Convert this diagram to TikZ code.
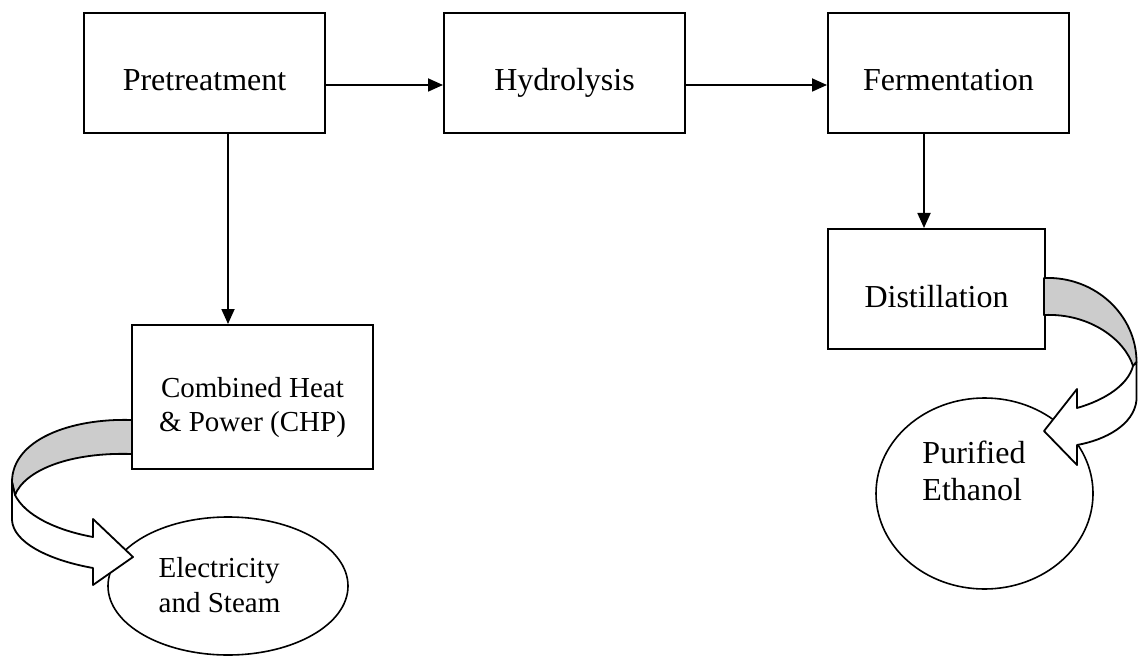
\documentclass[tikz,border=0pt]{standalone}
\usepackage{fontspec}
\setmainfont{Liberation Serif}
\usetikzlibrary{arrows.meta,shapes.geometric}
\definecolor{ribgrey}{RGB}{204,204,204}
\begin{document}
\begin{tikzpicture}[x=0.5pt,y=-0.5pt,
  box/.style={draw, line width=1pt, rectangle, inner sep=0pt,
    font=\fontsize{16pt}{18.5pt}\selectfont, text height=18pt, text depth=0pt},
  arr/.style={line width=0.9pt, -{Triangle[length=7.5pt,width=6.5pt]}},
  oval/.style={draw, ellipse, line width=0.8pt, inner sep=0pt},
  ribbon/.style={draw, line width=0.9pt, line join=round}]
\clip (0,0) rectangle (1138,657);
\useasboundingbox (0,0) rectangle (1138,657);

% process boxes
\node[box, minimum width=120.5pt, minimum height=60pt] (pre) at (204.5,73) {Pretreatment};
\node[box, minimum width=120.5pt, minimum height=60pt] (hyd) at (564.5,73) {Hydrolysis};
\node[box, minimum width=120.5pt, minimum height=60pt] (fer) at (948.5,73) {Fermentation};
\node[box, minimum width=108.5pt, minimum height=60pt] (dis) at (936.5,289) {Distillation};
\node[box, minimum width=120.5pt, minimum height=72pt, text height=10pt, text depth=10pt,
  font=\fontsize{14.5pt}{17pt}\selectfont] (chp) at (252.5,397)
  {\begin{tabular}[t]{@{}c@{}}Combined Heat\\ \& Power (CHP)\end{tabular}};

% products
\node[oval, minimum width=120pt, minimum height=69pt, text height=5pt, text depth=14pt,
  font=\fontsize{14.5pt}{17.5pt}\selectfont] (elec) at (228,586)
  {\begin{tabular}[t]{@{}l@{\hspace{8.5pt}}}Electricity\\ and Steam\end{tabular}};
\node[oval, minimum width=108.5pt, minimum height=95.5pt, text height=0pt, text depth=30.5pt,
  font=\fontsize{16pt}{18.5pt}\selectfont] (eth) at (984.5,493.5)
  {\begin{tabular}[t]{@{}l@{\hspace{10.5pt}}}Purified\\ Ethanol\end{tabular}};

% straight connectors
\draw[arr] ([yshift=-6pt]pre.east) -- ([yshift=-6pt]hyd.west);
\draw[arr] ([yshift=-6pt]hyd.east) -- ([yshift=-6pt]fer.west);
\draw[arr] ([xshift=11.75pt]pre.south) -- ([xshift=11.75pt]pre.south |- chp.north);
\draw[arr] ([xshift=-12.25pt]fer.south) -- ([xshift=-12.25pt]fer.south |- dis.north);

% curved ribbon arrow: CHP -> Electricity and Steam
\draw[ribbon, fill=ribgrey] (132,420) .. controls (70,418) and (12,440) .. (12,482)
  -- (15,495) .. controls (25,470) and (70,452) .. (132,454) -- cycle;
\draw[ribbon, fill=white] (12,482) -- (12,520) .. controls (13,542) and (48,560) .. (93,568)
  -- (93,585) -- (133,557) -- (93,519) -- (93,537)
  .. controls (55,530) and (25,515) .. (15,495) -- cycle;

% curved ribbon arrow: Distillation -> Purified Ethanol
\draw[ribbon, fill=ribgrey] (1044,278) .. controls (1095,276) and (1136.5,315) .. (1136.5,362)
  -- (1133,366) .. controls (1125,340) and (1090,313) .. (1044,315) -- cycle;
\draw[ribbon, fill=white] (1136.5,362) -- (1136.5,400) .. controls (1134,425) and (1105,440) .. (1077,445)
  -- (1077,465) -- (1044,431) -- (1077,389) -- (1077,408)
  .. controls (1105,400) and (1128,385) .. (1133,366) -- cycle;
\end{tikzpicture}
\end{document}
